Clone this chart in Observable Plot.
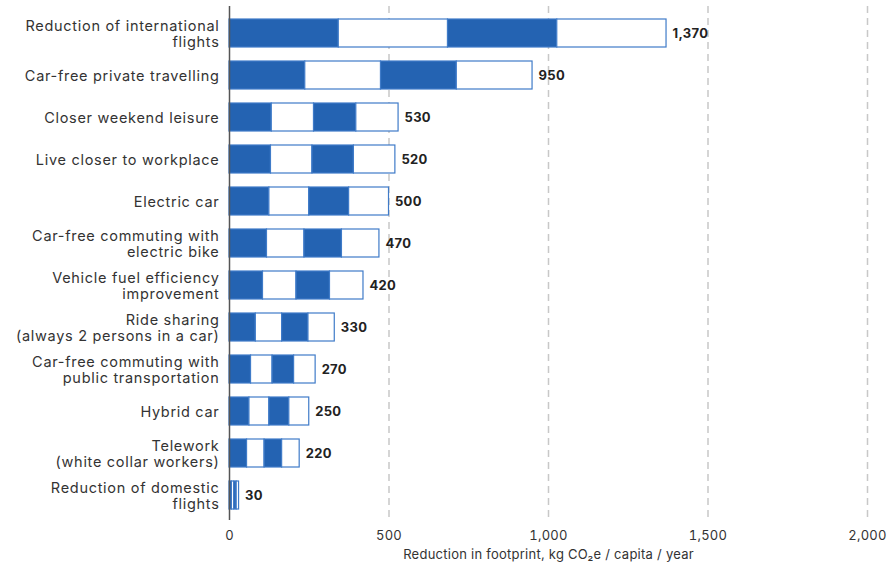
<!DOCTYPE html>
<html>
<head>
<meta charset="utf-8">
<script src="https://cdn.jsdelivr.net/npm/d3@7"></script>
<script src="https://cdn.jsdelivr.net/npm/@observablehq/plot@0.6"></script>
<style>
  html, body { margin: 0; padding: 0; background: #fff; }
  #chart svg { display: block; }
  #chart g[aria-label="y-axis tick label"] { letter-spacing: 0.7px; }
  #chart g[aria-label="x-axis tick label"] { letter-spacing: 0.25px; }
  #chart g[aria-label="x-axis label"] { letter-spacing: 0.25px; }
  #chart g[aria-label="text"] { letter-spacing: 0.3px; }
</style>
</head>
<body>
<div id="chart"></div>
<script>
const categories = [
  "Reduction of international\nflights",
  "Car-free private travelling",
  "Closer weekend leisure",
  "Live closer to workplace",
  "Electric car",
  "Car-free commuting with\nelectric bike",
  "Vehicle fuel efficiency\nimprovement",
  "Ride sharing\n(always 2 persons in a car)",
  "Car-free commuting with\npublic transportation",
  "Hybrid car",
  "Telework\n(white collar workers)",
  "Reduction of domestic\nflights"
];
const values = [1370, 950, 530, 520, 500, 470, 420, 330, 270, 250, 220, 30];
const xTicks = [0, 500, 1000, 1500, 2000];
const gridTicks = [500, 1000, 1500, 2000];
const segmentCount = 4;

const rows = categories.map((c, i) => ({category: c, value: values[i]}));
const segments = rows.flatMap(r =>
  d3.range(segmentCount).map(k => ({
    category: r.category,
    x1: r.value * k / segmentCount,
    x2: r.value * (k + 1) / segmentCount,
    filled: k % 2 === 0
  }))
);

const chart = Plot.plot({
  width: 891,
  height: 566,
  marginLeft: 229,
  marginRight: 24,
  marginTop: 8,
  marginBottom: 46,
  style: {fontFamily: "Inter, 'DejaVu Sans', sans-serif", background: "#fff"},
  x: {domain: [0, 2000], ticks: xTicks, tickFormat: d3.format(","), label: "Reduction in footprint, kg CO₂e / capita / year", labelAnchor: "center", labelArrow: "none"},
  y: {domain: categories, paddingInner: 0.34, paddingOuter: 0.2, label: null},
  marks: [
    Plot.ruleX(gridTicks, {stroke: "#c8c8c8", strokeWidth: 1.5, strokeDasharray: "7,5", insetTop: -2}),
    Plot.barX(segments, {
      x1: "x1", x2: "x2", y: "category",
      fill: d => d.filled ? "#2463b2" : "#ffffff",
      stroke: "#3f7bc8", strokeWidth: 1.2
    }),
    Plot.ruleX([0], {stroke: "#555", strokeWidth: 1.5, insetTop: -2}),
    Plot.text(rows, {
      x: "value", y: "category", text: d => d3.format(",")(d.value),
      dx: 6, textAnchor: "start", fontWeight: "bold", fontSize: 13, fill: "#222"
    }),
    Plot.axisX({ticks: xTicks, tickFormat: d3.format(","), tickSize: 0, tickPadding: 10, fontSize: 13, fill: "#333",
      label: "Reduction in footprint, kg CO₂e / capita / year", labelAnchor: "center", labelArrow: "none", labelOffset: 38}),
    Plot.axisY({tickSize: 0, tickPadding: 10, fontSize: 14.5, fill: "#333", lineHeight: 1.12, label: null})
  ]
});
document.getElementById("chart").appendChild(chart);
</script>
</body>
</html>
